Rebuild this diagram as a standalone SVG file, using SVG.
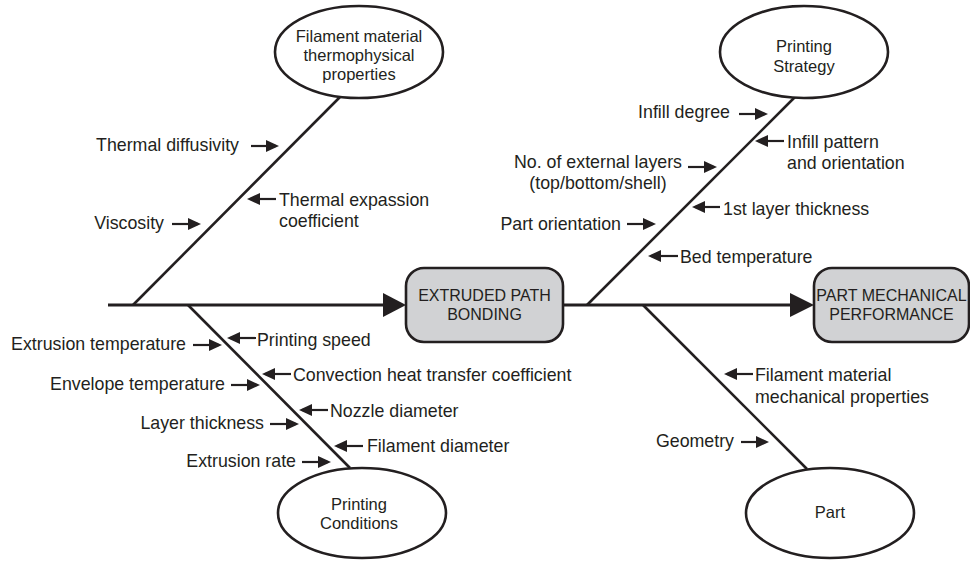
<svg xmlns="http://www.w3.org/2000/svg" width="970" height="562" viewBox="0 0 970 562">
<style>
text{font-family:"Liberation Sans",Arial,sans-serif;fill:#231f20}
.lbl{font-size:17.8px}
.ell{font-size:16.5px}
.box{font-size:16px}
.bone{stroke:#231f20;stroke-width:2.6;fill:none}
.spine{stroke:#231f20;stroke-width:3;fill:none}
.sa{stroke:#231f20;stroke-width:2.2;fill:none;marker-end:url(#ah)}
.node-e{fill:#fff;stroke:#231f20;stroke-width:2.6}
.node-b{fill:#d1d2d4;stroke:#231f20;stroke-width:2.6}
.big{fill:#231f20}
</style>
<defs>
<marker id="ah" viewBox="0 0 13 12" refX="10" refY="6" markerWidth="13" markerHeight="12" markerUnits="userSpaceOnUse" orient="auto">
<path d="M0,0 L13,6 L0,12 z" fill="#231f20"/>
</marker>
</defs>
<g id="connectors">
<line class="spine" x1="108" y1="305" x2="390" y2="305"/>
<polygon class="big" points="383,293 406,305 383,317"/>
<line class="spine" x1="563" y1="305" x2="797" y2="305"/>
<polygon class="big" points="790,293 814,305 790,317"/>
<line class="bone" x1="340" y1="97" x2="133" y2="305"/>
<line class="bone" x1="795" y1="97" x2="587" y2="305"/>
<line class="bone" x1="188" y1="305" x2="350" y2="468"/>
<line class="bone" x1="643" y1="305" x2="807" y2="469"/>
</g>
<g id="small-arrows">
<path class="sa" d="M251,146 H276"/>
<path class="sa" d="M276,199 H250"/>
<path class="sa" d="M172,224 H198"/>
<path class="sa" d="M739,114 H765"/>
<path class="sa" d="M784,141 H758"/>
<path class="sa" d="M688,167 H714"/>
<path class="sa" d="M720,207 H695"/>
<path class="sa" d="M627,224 H653"/>
<path class="sa" d="M678,256 H651"/>
<path class="sa" d="M193,345 H219"/>
<path class="sa" d="M256,338 H230"/>
<path class="sa" d="M231,385 H257"/>
<path class="sa" d="M291,374 H265"/>
<path class="sa" d="M328,410 H302"/>
<path class="sa" d="M270,424 H296"/>
<path class="sa" d="M363,446 H337"/>
<path class="sa" d="M302,462 H328"/>
<path class="sa" d="M753,374 H727"/>
<path class="sa" d="M741,442 H766"/>
</g>
<g id="node-filament-thermo">
<ellipse class="node-e" cx="359" cy="52" rx="84" ry="46"/>
<text class="ell" x="359" y="42" text-anchor="middle">Filament material</text>
<text class="ell" x="359" y="61" text-anchor="middle">thermophysical</text>
<text class="ell" x="359" y="80" text-anchor="middle">properties</text>
</g>
<g id="node-printing-strategy">
<ellipse class="node-e" cx="804" cy="52" rx="84" ry="46"/>
<text class="ell" x="804" y="52" text-anchor="middle">Printing</text>
<text class="ell" x="804" y="72" text-anchor="middle">Strategy</text>
</g>
<g id="node-printing-conditions">
<ellipse class="node-e" cx="362" cy="513" rx="84" ry="45"/>
<text class="ell" x="359" y="510" text-anchor="middle">Printing</text>
<text class="ell" x="359" y="529" text-anchor="middle">Conditions</text>
</g>
<g id="node-part">
<ellipse class="node-e" cx="830" cy="513" rx="84" ry="45"/>
<text class="ell" x="830" y="518" text-anchor="middle">Part</text>
</g>
<g id="node-extruded-path">
<rect class="node-b" x="406" y="268" width="157" height="74" rx="18"/>
<text class="box" x="484.5" y="301" text-anchor="middle">EXTRUDED PATH</text>
<text class="box" x="484.5" y="320" text-anchor="middle">BONDING</text>
</g>
<g id="node-part-performance">
<rect class="node-b" x="814" y="268" width="155" height="74" rx="18"/>
<text class="box" x="891.5" y="301" text-anchor="middle">PART MECHANICAL</text>
<text class="box" x="891.5" y="320" text-anchor="middle">PERFORMANCE</text>
</g>
<g id="labels">
<text class="lbl" x="239" y="151" text-anchor="end">Thermal diffusivity</text>
<text class="lbl" x="279" y="206">Thermal expassion</text>
<text class="lbl" x="279" y="227">coefficient</text>
<text class="lbl" x="164" y="229" text-anchor="end">Viscosity</text>
<text class="lbl" x="730" y="118" text-anchor="end">Infill degree</text>
<text class="lbl" x="787" y="148">Infill pattern</text>
<text class="lbl" x="787" y="169">and orientation</text>
<text class="lbl" x="598" y="168" text-anchor="middle">No. of external layers</text>
<text class="lbl" x="598" y="189" text-anchor="middle">(top/bottom/shell)</text>
<text class="lbl" x="723" y="215">1st layer thickness</text>
<text class="lbl" x="621" y="230" text-anchor="end">Part orientation</text>
<text class="lbl" x="680" y="263">Bed temperature</text>
<text class="lbl" x="186" y="350" text-anchor="end">Extrusion temperature</text>
<text class="lbl" x="257" y="346">Printing speed</text>
<text class="lbl" x="225" y="390" text-anchor="end">Envelope temperature</text>
<text class="lbl" x="293" y="381">Convection heat transfer coefficient</text>
<text class="lbl" x="330" y="417">Nozzle diameter</text>
<text class="lbl" x="264" y="429" text-anchor="end">Layer thickness</text>
<text class="lbl" x="367" y="452">Filament diameter</text>
<text class="lbl" x="296" y="467" text-anchor="end">Extrusion rate</text>
<text class="lbl" x="755" y="381">Filament material</text>
<text class="lbl" x="755" y="403">mechanical properties</text>
<text class="lbl" x="734" y="447" text-anchor="end">Geometry</text>
</g>
</svg>
